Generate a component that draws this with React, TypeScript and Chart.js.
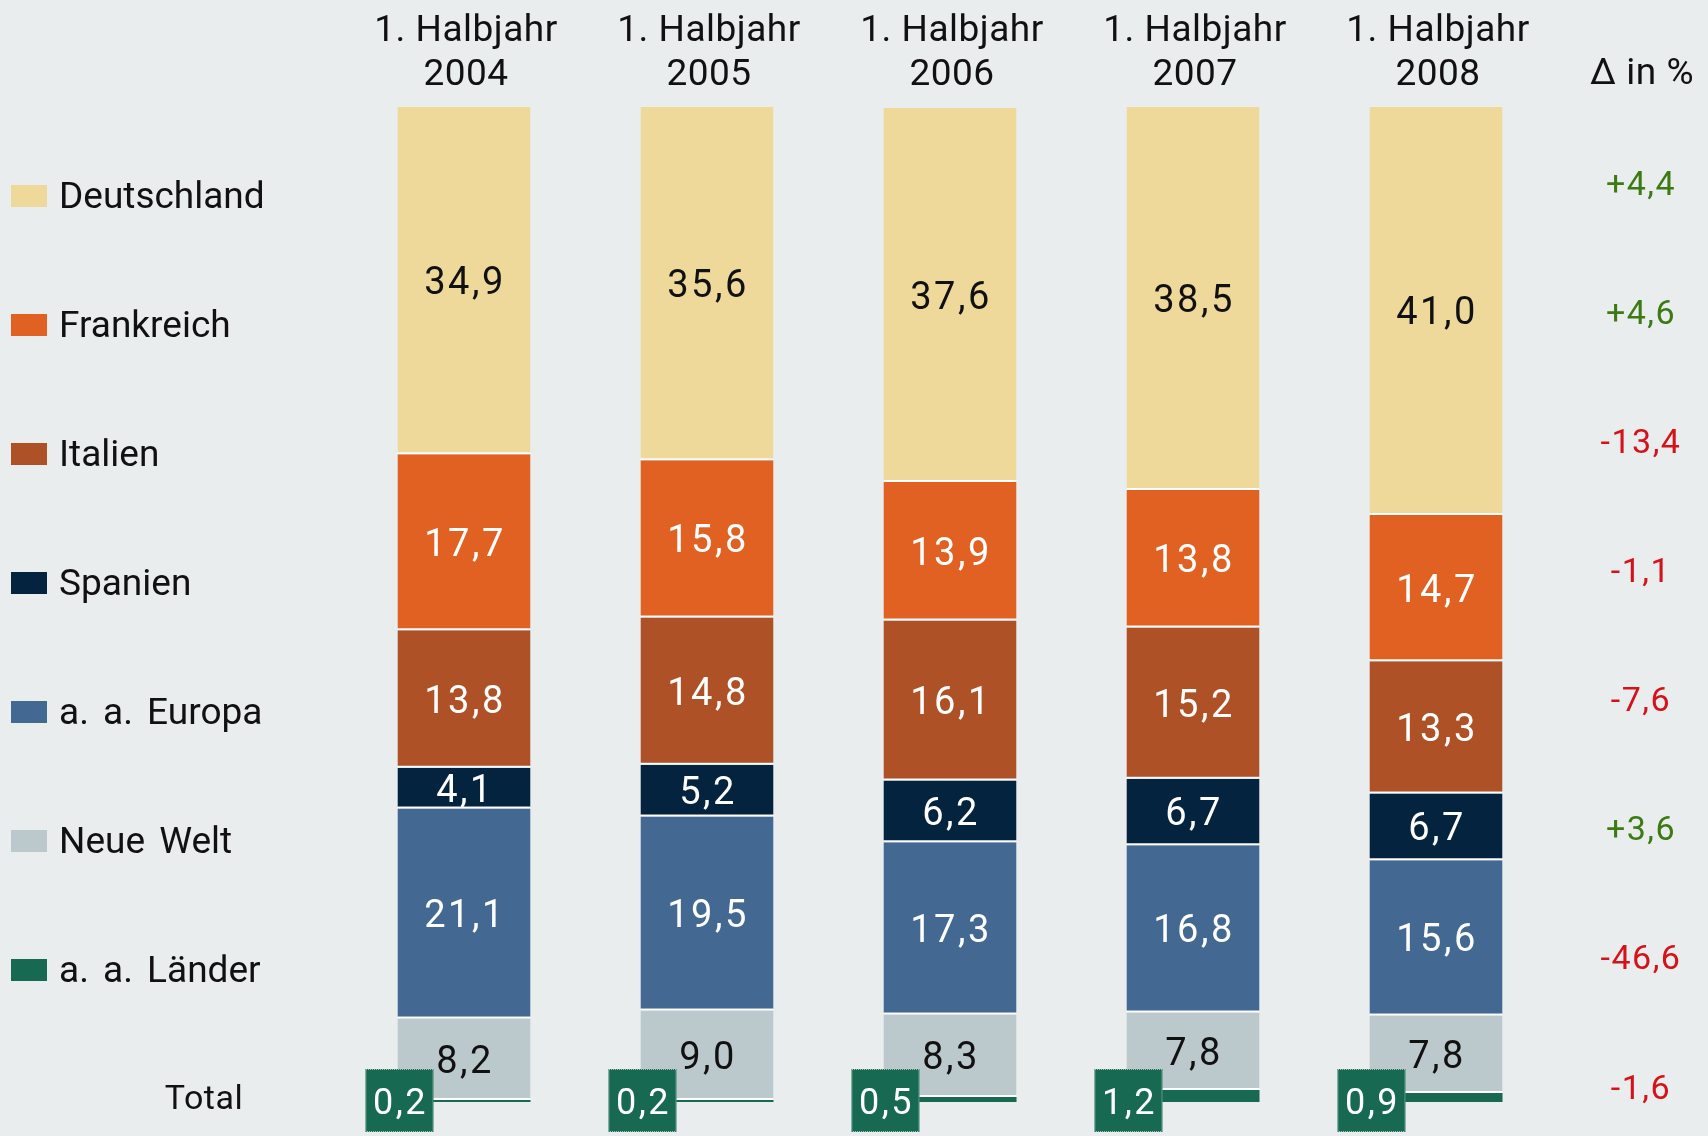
import React, { useEffect, useRef } from 'react';
import { Chart, registerables } from 'chart.js';

Chart.register(...registerables);

// ---------- data ----------
const periodPrefix = '1. Halbjahr';
const periods = ['2004', '2005', '2006', '2007', '2008'];

const legendNames = ['Deutschland', 'Frankreich', 'Italien', 'Spanien', 'a. a. Europa', 'Neue Welt', 'a. a. Länder'];

const deutschland = [34.9, 35.6, 37.6, 38.5, 41.0];
const frankreich = [17.7, 15.8, 13.9, 13.8, 14.7];
const italien = [13.8, 14.8, 16.1, 15.2, 13.3];
const spanien = [4.1, 5.2, 6.2, 6.7, 6.7];
const europa = [21.1, 19.5, 17.3, 16.8, 15.6];
const neueWelt = [8.2, 9.0, 8.3, 7.8, 7.8];
const andereLaender = [0.2, 0.2, 0.5, 1.2, 0.9];

const deltas = [4.4, 4.6, -13.4, -1.1, -7.6, 3.6, -46.6];
const totalDelta = -1.6;
const totalLabel = 'Total';
const deltaHeader = 'Δ in %';

// ---------- styles ----------
const BG = '#e9edee';
const colors = {
  deutschland: '#eed99b',
  frankreich: '#e06122',
  italien: '#ae5127',
  spanien: '#04233e',
  europa: '#436892',
  neueWelt: '#bbc8cc',
  laender: '#176a51',
};
const legendColors = [colors.deutschland, colors.frankreich, colors.italien, colors.spanien, colors.europa, colors.neueWelt, colors.laender];
const FONT = 'Roboto, "Open Sans", sans-serif';

const fmt = (v: number, sign = false) => {
  const s = Math.abs(v).toFixed(1).replace('.', ',');
  if (sign) return (v >= 0 ? '+' : '-') + s;
  return (v < 0 ? '-' : '') + s;
};

const W = 1708;
const H = 1136;

export default function App() {
  const ref = useRef<HTMLCanvasElement | null>(null);

  useEffect(() => {
    document.body.style.margin = '0';
    document.body.style.background = BG;
    const canvas = ref.current!;

    const seg = (label: string, data: number[], color: string, textColor: string, isBase = false) => ({
      label,
      data,
      backgroundColor: color,
      borderColor: '#ffffff',
      borderWidth: isBase ? 0 : { top: 0, left: 0, right: 0, bottom: 2 },
      borderSkipped: false as const,
      barPercentage: 0.5476,
      categoryPercentage: 1,
      textColor,
      isBase,
    });

    const datasets: any[] = [
      seg('a. a. Länder', andereLaender, colors.laender, '#ffffff', true),
      seg('Neue Welt', neueWelt, colors.neueWelt, '#111111'),
      seg('a. a. Europa', europa, colors.europa, '#ffffff'),
      seg('Spanien', spanien, colors.spanien, '#ffffff'),
      seg('Italien', italien, colors.italien, '#ffffff'),
      seg('Frankreich', frankreich, colors.frankreich, '#ffffff'),
      seg('Deutschland', deutschland, colors.deutschland, '#111111'),
    ];

    const decor = {
      id: 'decor',
      beforeDraw(chart: any) {
        const ctx = chart.ctx;
        ctx.save();
        ctx.fillStyle = BG;
        ctx.fillRect(0, 0, chart.width, chart.height);
        ctx.restore();
      },
      afterDatasetsDraw(chart: any) {
        const ctx = chart.ctx;
        ctx.save();
        ctx.textAlign = 'center';
        ctx.textBaseline = 'middle';
        chart.data.datasets.forEach((ds: any, di: number) => {
          const meta = chart.getDatasetMeta(di);
          meta.data.forEach((el: any, i: number) => {
            const v = ds.data[i];
            if (ds.isBase) {
              const cx = el.x - el.width / 2 + 2;
              const bw = 68;
              const bh = 63;
              const top = el.base - 33;
              const left = cx - bw / 2;
              ctx.fillStyle = colors.laender;
              ctx.fillRect(left, top, bw, bh);
              ctx.setLineDash([1, 1]);
              ctx.strokeStyle = '#a9c6ba';
              ctx.lineWidth = 1;
              ctx.strokeRect(left + 0.5, top + 0.5, bw - 1, bh - 1);
              ctx.setLineDash([]);
              ctx.fillStyle = '#ffffff';
              ctx.font = `36px ${FONT}`;
              (ctx as any).letterSpacing = '2.5px';
              ctx.fillText(fmt(v), cx + 1, top + bh / 2 + 4);
            } else {
              ctx.fillStyle = ds.textColor;
              ctx.font = `38px ${FONT}`;
              (ctx as any).letterSpacing = '2.5px';
              ctx.fillText(fmt(v), el.x + 1, (el.y + el.base) / 2 + 4);
            }
          });
        });
        ctx.restore();
      },
      afterDraw(chart: any) {
        const ctx = chart.ctx;
        const xs = chart.scales.x;
        ctx.save();
        // column headers
        ctx.fillStyle = '#111111';
        ctx.textAlign = 'center';
        ctx.textBaseline = 'alphabetic';
        ctx.font = `37px ${FONT}`;
        (ctx as any).letterSpacing = '0.5px';
        periods.forEach((p, i) => {
          const x = xs.getPixelForValue(i) + 2;
          ctx.fillText(periodPrefix, x, 41);
          ctx.fillText(p, x, 85);
        });
        ctx.fillText(deltaHeader, 1642, 84);

        // legend
        const rowTop = 196;
        const step = 129;
        legendNames.forEach((name, i) => {
          const cy = rowTop + i * step;
          ctx.fillStyle = legendColors[i];
          ctx.fillRect(11, cy - 11, 36, 22);
          ctx.fillStyle = '#111111';
          ctx.textAlign = 'left';
          ctx.textBaseline = 'middle';
          ctx.font = `37px ${FONT}`;
          (ctx as any).letterSpacing = '0px';
          (ctx as any).wordSpacing = '5px';
          ctx.fillText(name, 59, cy + 3);
          (ctx as any).wordSpacing = '0px';

          const d = deltas[i];
          ctx.textAlign = 'center';
          ctx.font = `34px ${FONT}`;
          (ctx as any).letterSpacing = '1.5px';
          ctx.fillStyle = d >= 0 ? '#3d7a14' : '#d51219';
          ctx.fillText(fmt(d, true), 1641, cy - 10);
        });

        // total
        ctx.textAlign = 'center';
        ctx.textBaseline = 'alphabetic';
        ctx.fillStyle = '#111111';
        ctx.font = `34px ${FONT}`;
        (ctx as any).letterSpacing = '0.5px';
        ctx.fillText(totalLabel, 204, 1109);
        ctx.textBaseline = 'middle';
        ctx.font = `34px ${FONT}`;
        (ctx as any).letterSpacing = '1.5px';
        ctx.fillStyle = totalDelta >= 0 ? '#3d7a14' : '#d51219';
        ctx.fillText(fmt(totalDelta, true), 1641, 1090);
        ctx.restore();
      },
    };

    const chart = new Chart(canvas, {
      type: 'bar',
      data: { labels: periods, datasets },
      options: {
        responsive: false,
        animation: false,
        devicePixelRatio: 1,
        layout: { padding: { left: 342.5, right: 150.5, top: 107, bottom: 34 } },
        plugins: { legend: { display: false }, tooltip: { enabled: false } },
        scales: {
          x: { stacked: true, display: false },
          y: { stacked: true, display: false, min: 0, max: 100 },
        },
      },
      plugins: [decor],
    } as any);

    return () => chart.destroy();
  }, []);

  return (
    <div style={{ width: W, height: H, background: BG }}>
      <canvas ref={ref} width={W} height={H} style={{ display: 'block', width: W, height: H }} />
    </div>
  );
}
